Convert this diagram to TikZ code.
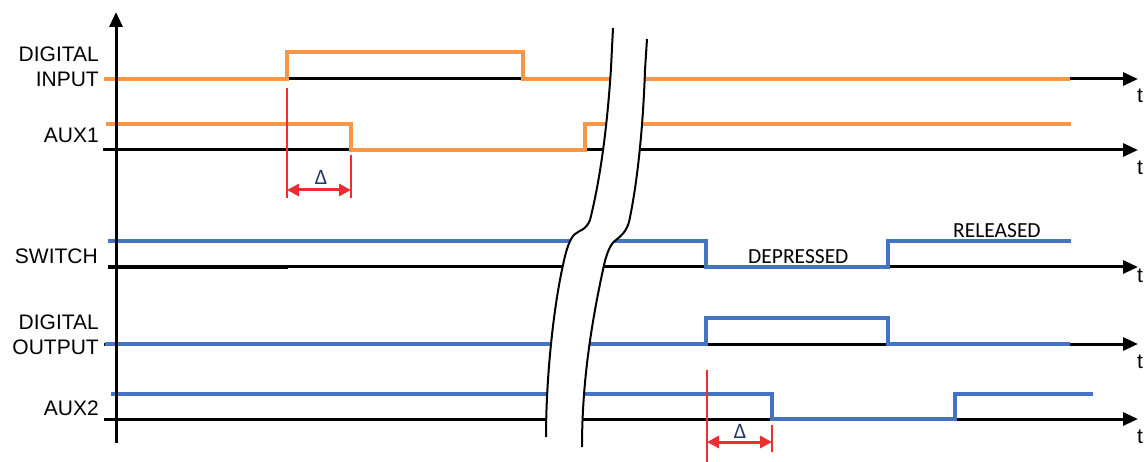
\documentclass[tikz,border=0pt]{standalone}
\usepackage{fontspec}
\setmainfont{Liberation Sans}
\newfontfamily\calib{Carlito}
\usetikzlibrary{arrows.meta}
\definecolor{sigorange}{RGB}{247,150,70}
\definecolor{sigblue}{RGB}{68,114,196}
\definecolor{dred}{RGB}{237,45,50}
\definecolor{dnavy}{RGB}{31,56,100}
\begin{document}
\begin{tikzpicture}[x=1pt,y=-1pt,
  baseln/.style={line width=3pt,black},
  axisarrow/.style={line width=3pt,black,-{Triangle[length=15pt,width=13pt]}},
  sigo/.style={line width=4pt,sigorange},
  sigb/.style={line width=4pt,sigblue},
  redtick/.style={line width=1.5pt,dred},
  dimarrow/.style={line width=3pt,dred,{Triangle[length=12pt,width=12pt]}-{Triangle[length=12pt,width=12pt]}},
  breakline/.style={line width=2pt,black},
  lbl/.style={font=\fontsize{21}{25}\selectfont,inner sep=0pt,align=right},
  tlbl/.style={font=\fontsize{21}{25}\selectfont,inner sep=0pt,anchor=base},
  state/.style={font=\calib\fontsize{21.5}{24}\selectfont,inner sep=0pt,anchor=base west},
  dlt/.style={font=\calib\fontsize{22}{24}\selectfont,inner sep=0pt,anchor=base,text=dnavy}]
\useasboundingbox (0,0) rectangle (1145,462);

% time axes
\coordinate (t1s) at (104,79);  \coordinate (t1e) at (1138,79);
\coordinate (t2s) at (103,150); \coordinate (t2e) at (1138,150);
\coordinate (t3s) at (108,267); \coordinate (t3e) at (1138,267);
\coordinate (t4s) at (104,344); \coordinate (t4e) at (1138,344);
\coordinate (t5s) at (104,419); \coordinate (t5e) at (1138,419);
\draw[axisarrow] (t1s) -- (t1e);
\draw[axisarrow] (t2s) -- (t2e);
\draw[axisarrow] (t3s) -- (t3e);
\draw[axisarrow] (t4s) -- (t4e);
\draw[axisarrow] (t5s) -- (t5e);
\draw[line width=4pt] (108,267) -- (288,267);

% signals
\draw[sigo] (104,79) -- (287,79) -- (287,52) -- (523,52) -- (523,79) -- (1070,79);
\draw[sigo] (106,124) -- (351,124) -- (351,150) -- (585,150) -- (585,124) -- (1071,124);
\draw[sigb] (108,241) -- (706,241) -- (706,267) -- (888,267) -- (888,241) -- (1071,241);
\draw[sigb] (105,344) -- (706,344) -- (706,318) -- (888,318) -- (888,344) -- (1070,344);
\draw[sigb] (111,394) -- (772,394) -- (772,419) -- (955,419) -- (955,394) -- (1093,394);

% vertical axis
\coordinate (vb) at (116,443); \coordinate (vt) at (116,12);
\draw[axisarrow] (vb) -- (vt);

% break
\fill[white] (613,28) -- (611,68) .. controls (607,130) and (600,180) .. (590,220)
  .. controls (586,230) and (580,230) .. (575,234)
  .. controls (570,238) and (566,250) .. (563,265)
  .. controls (553,310) and (546,380) .. (546,437)
  -- (582,447) .. controls (582,380) and (592,320) .. (604,265)
  .. controls (607,252) and (611,243) .. (616,240)
  .. controls (621,236) and (626,232) .. (629,222)
  .. controls (637,185) and (643,130) .. (645,70) -- (647,39) -- cycle;
\draw[breakline] (613,28) -- (611,68) .. controls (607,130) and (600,180) .. (590,220)
  .. controls (586,230) and (580,230) .. (575,234)
  .. controls (570,238) and (566,250) .. (563,265)
  .. controls (553,310) and (546,380) .. (546,437);
\draw[breakline] (647,39) -- (645,70) .. controls (643,130) and (637,185) .. (629,222)
  .. controls (626,232) and (621,236) .. (616,240)
  .. controls (611,243) and (607,252) .. (604,265)
  .. controls (592,320) and (582,380) .. (582,447);

% delta 1
\draw[redtick] (287,88) -- (287,198);
\draw[redtick] (351,155) -- (351,198);
\coordinate (d1a) at (287,190); \coordinate (d1b) at (351,190);
\draw[dimarrow] (d1a) -- (d1b);
\node[dlt] (dl1) at (321,185) {Δ};

% delta 2
\draw[redtick] (707,370) -- (707,462);
\draw[redtick] (772,425) -- (772,452);
\coordinate (d2a) at (707,442); \coordinate (d2b) at (772,442);
\draw[dimarrow] (d2a) -- (d2b);
\node[dlt] (dl2) at (740,438) {Δ};

% labels
\node[lbl,anchor=base east] (ldi) at (99,87) {DIGITAL\\INPUT};
\node[lbl,anchor=base east] (la1) at (99,143) {AUX1};
\node[lbl,anchor=base east] (lsw) at (98,263) {SWITCH};
\node[lbl,anchor=base east] (ldo) at (99,354) {DIGITAL\\OUTPUT};
\node[lbl,anchor=base east] (la2) at (99,415) {AUX2};

\node[tlbl] (tt1) at (1140,103) {t};
\node[tlbl] (tt2) at (1140,175) {t};
\node[tlbl] (tt3) at (1140,283) {t};
\node[tlbl] (tt4) at (1140,368) {t};
\node[tlbl] (tt5) at (1140,443) {t};

\node[state] (dep) at (748,263) {DEPRESSED};
\node[state] (rel) at (953,238) {RELEASED};
\end{tikzpicture}
\end{document}
